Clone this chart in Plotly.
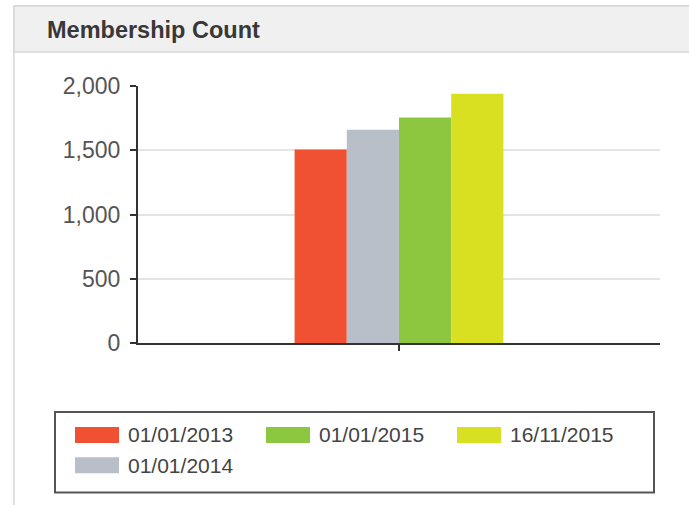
import plotly.graph_objects as go

category = ["Membership"]
series_names = ["01/01/2013", "01/01/2014", "01/01/2015", "16/11/2015"]
series_values = [1505, 1660, 1755, 1940]
series_colors = ["#F05133", "#B8BFC9", "#8DC63F", "#D9E021"]
legend_order = [1, 4, 2, 3]
y_ticks = [0, 500, 1000, 1500, 2000]
title_text = "Membership Count"

W, H = 689, 505
ML, MR, MT, MB = 55, 29, 86, 162
PW = W - ML - MR
PH = H - MT - MB


def px(x):
    return (x - ML) / PW


def py(y):
    return (H - MB - y) / PH


LEG_FONT = 21
ROW_H = LEG_FONT * 1.3 + 3
ENTRY_W = 128
ITEM_W = 48
COL_STEP = ENTRY_W + ITEM_W + 10 + 5
LEG_X, LEG_TOP = 70, 414
ROW1_C = 435

fig = go.Figure()
for name, val, col, rank in zip(series_names, series_values, series_colors, legend_order):
    fig.add_trace(go.Bar(x=category, y=[val], name=name, marker=dict(color=col, line=dict(width=0)),
                         showlegend=False, legendgroup=name))
    fig.add_trace(go.Scatter(x=[None], y=[None], mode="lines", name=name, legendgroup=name,
                             legendrank=rank, line=dict(color="rgba(0,0,0,0)", width=10),
                             hoverinfo="skip"))

# legend swatches (wide rectangles like the original widget), following legend rank layout
for col, rank in zip(series_colors, legend_order):
    idx = rank - 1
    r, c = divmod(idx, 3)
    x0 = LEG_X + 5 + c * COL_STEP
    yc = ROW1_C + r * ROW_H
    fig.add_shape(type="rect", xref="paper", yref="paper", x0=px(x0), x1=px(x0 + 44),
                  y0=py(yc - 8), y1=py(yc + 8), line=dict(width=0), fillcolor=col, layer="above")

# legend frame
fig.add_shape(type="rect", xref="paper", yref="paper", x0=px(55), x1=px(654), y0=py(412), y1=py(492.5),
              line=dict(color="#555555", width=2), fillcolor="rgba(0,0,0,0)", layer="above")

# panel frame and header
fig.add_shape(type="rect", xref="paper", yref="paper", x0=px(14), x1=px(720), y0=py(6), y1=py(540),
              line=dict(color="#d6d6d6", width=1.5), fillcolor="rgba(0,0,0,0)", layer="below")
fig.add_shape(type="rect", xref="paper", yref="paper", x0=px(14), x1=px(720), y0=py(6), y1=py(52),
              line=dict(color="#d6d6d6", width=1.5), fillcolor="#f0f0f0", layer="below")
fig.add_annotation(text="<b>" + title_text + "</b>", xref="paper", yref="paper", x=px(45), y=py(30),
                   xanchor="left", yanchor="middle", showarrow=False,
                   font=dict(family="Liberation Sans, Arial", size=23.5, color="#383838"))

fig.update_layout(
    width=W, height=H,
    margin=dict(l=ML, r=MR, t=MT, b=MB, pad=0),
    paper_bgcolor="white", plot_bgcolor="white",
    barmode="group", bargap=0.6, bargroupgap=0,
    separators=".,",
    font=dict(family="Liberation Sans, Arial", color="#555555"),
    xaxis=dict(domain=[px(138), 1], showticklabels=False, ticks="outside", ticklen=6, tickwidth=2,
               tickcolor="#333333", showline=True, linecolor="#333333", linewidth=2,
               showgrid=False, fixedrange=True),
    yaxis=dict(range=[0, 2000], tickvals=y_ticks, tickformat=",d", ticks="outside", ticklen=6,
               tickwidth=2, tickcolor="#333333", showline=True, linecolor="#333333", linewidth=2,
               showgrid=True, gridcolor="#e4e4e4", gridwidth=1.5, zeroline=False,
               tickfont=dict(size=23, color="#555555"), ticklabelstandoff=5, fixedrange=True),
    legend=dict(orientation="h", x=px(LEG_X), xanchor="left", y=py(LEG_TOP), yanchor="top",
                borderwidth=0, bgcolor="rgba(0,0,0,0)",
                itemwidth=ITEM_W, entrywidth=ENTRY_W, entrywidthmode="pixels",
                font=dict(size=LEG_FONT, color="#444444"), traceorder="normal"),
    showlegend=True,
)

fig.write_html("out.html", config={"displayModeBar": False},
               post_script="document.body.style.margin='0';")
